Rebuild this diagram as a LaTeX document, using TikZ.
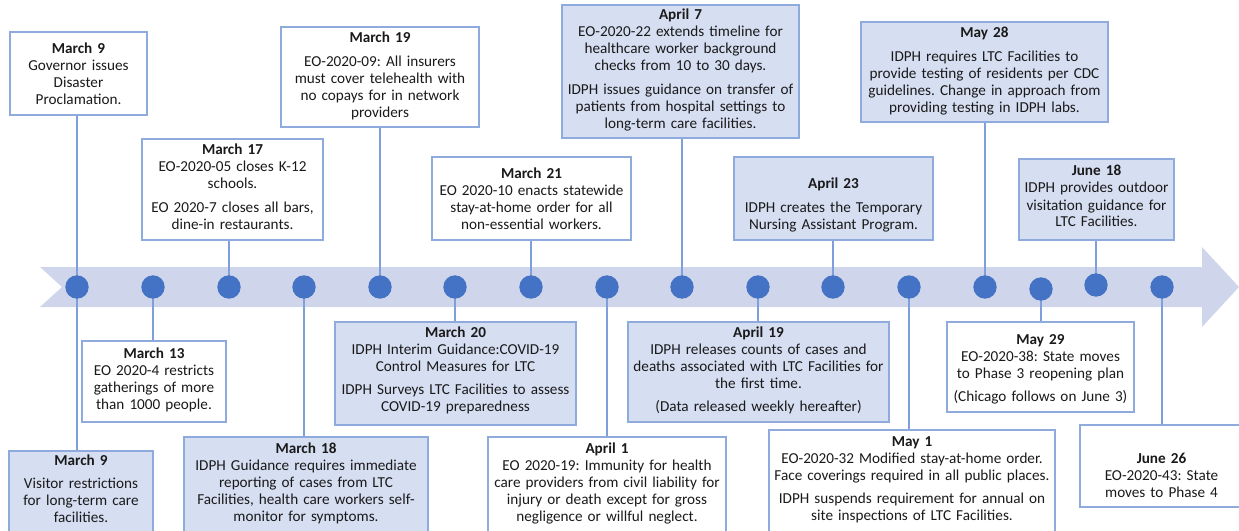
\documentclass[tikz,border=0pt]{standalone}
\usepackage{fontspec}
\setmainfont{Carlito}
\usetikzlibrary{fit}
\definecolor{bandc}{HTML}{CFD5EA}
\definecolor{boxfill}{HTML}{D6DEF2}
\definecolor{boxline}{HTML}{8FAADC}
\definecolor{connc}{HTML}{7F9FDA}
\definecolor{dotc}{HTML}{4472C4}
\definecolor{txtc}{HTML}{1A1A1A}
\tikzset{
  evwhite/.style={draw=boxline, line width=1.1pt, fill=white, inner sep=0pt},
  evblue/.style={draw=boxline, line width=1.1pt, fill=boxfill, inner sep=0pt},
  evtext/.style={anchor=base, align=center, inner sep=0pt, text=txtc, font=\fontsize{11.4}{12.75}\selectfont\frenchspacing},
  conn/.style={draw=connc, line width=1.1pt},
  evdot/.style={circle, fill=dotc, minimum size=17.5pt, inner sep=0pt},
}
\newcommand\evbox[8]{%
  \node[#6, fit={(#2,#3)(#4,#5)}] (#1) {};
  \pgfmathsetmacro\evtw{(#4-#2-2)*0.75}%
  \pgfmathsetmacro\evxc{(#2+#4)/2}%
  \node[evtext, text width=\evtw pt] (#1-t) at (\evxc,#7) {#8};
}
\begin{document}
\begin{tikzpicture}[x=0.75pt,y=-0.75pt]
\useasboundingbox (0,0) rectangle (1239,531);
\clip (0,0) rectangle (1239,531);
% band
\fill[bandc] (40,267) -- (1202,267) -- (1202,247) -- (1239,287) -- (1202,327) -- (1202,307) -- (40,307) -- (62,287) -- cycle;
% dot positions
\coordinate (p1) at (77,287);
\coordinate (p2) at (153,287);
\coordinate (p3) at (229,287);
\coordinate (p4) at (304,287);
\coordinate (p5) at (380,287);
\coordinate (p6) at (455,287);
\coordinate (p7) at (531,287);
\coordinate (p8) at (607,287);
\coordinate (p9) at (682,287);
\coordinate (p10) at (758,287);
\coordinate (p11) at (833,287);
\coordinate (p12) at (909,287);
\coordinate (p13) at (985,287);
\coordinate (p14) at (1041,289);
\coordinate (p15) at (1096,285);
\coordinate (p16) at (1162,287);
% boxes
\evbox{m9a}{10}{32}{147}{115}{evwhite}{54}{\textbf{March 9}\\Governor issues\\Disaster\\Proclamation.}
\evbox{m17}{142}{139}{323}{240}{evwhite}{155}{\textbf{March 17}\\EO-2020-05 closes K-12\\schools.\\[5pt]EO 2020-7 closes all bars,\\dine-in restaurants.}
\evbox{m19}{281}{27}{479}{127}{evwhite}{43}{\textbf{March 19}\\[5pt]EO-2020-09: All insurers\\must cover telehealth with\\no copays for in network\\providers}
\evbox{a7}{562}{5}{799}{138}{evblue}{20}{\textbf{April 7}\\EO-2020-22 extends timeline for\\healthcare worker background\\checks from 10 to 30 days.\\[5pt]IDPH issues guidance on transfer of\\patients from hospital settings to\\long-term care facilities.}
\evbox{m21}{432}{157}{631}{240}{evwhite}{179}{\textbf{March 21}\\EO 2020-10 enacts statewide\\stay-at-home order for all\\non-essential workers.}
\evbox{a23}{734}{157}{933}{240}{evblue}{189}{\textbf{April 23}\\[5pt]IDPH creates the Temporary\\Nursing Assistant Program.}
\evbox{my28}{861}{22}{1108}{122}{evblue}{38}{\textbf{May 28}\\[5pt]IDPH requires LTC Facilities to\\provide testing of residents per CDC\\guidelines. Change in approach from\\providing testing in IDPH labs.}
\evbox{j18}{1019}{159}{1174}{240}{evblue}{176}{\textbf{June 18}\\IDPH provides outdoor\\visitation guidance for\\LTC Facilities.}
\evbox{m13}{82}{341}{226}{422}{evwhite}{358}{\textbf{March 13}\\EO 2020-4 restricts\\gatherings of more\\than 1000 people.}
\evbox{m9b}{9}{451}{153}{545}{evblue}{465}{\textbf{March 9}\\[5pt]Visitor restrictions\\for long-term care\\facilities.}
\evbox{m18}{184}{437}{428}{545}{evblue}{453}{\textbf{March 18}\\IDPH Guidance requires immediate\\reporting of cases from LTC\\Facilities, health care workers self-\\monitor for symptoms.}
\evbox{m20}{335}{322}{576}{425}{evblue}{337}{\textbf{March 20}\\IDPH Interim Guidance:COVID-19\\Control Measures for LTC\\[5pt]IDPH Surveys LTC Facilities to assess\\COVID-19 preparedness}
\evbox{a1}{488}{437}{726}{545}{evwhite}{453}{\textbf{April 1}\\EO 2020-19: Immunity for health\\care providers from civil liability for\\injury or death except for gross\\negligence or willful neglect.}
\evbox{a19}{628}{322}{889}{422}{evblue}{337}{\textbf{April 19}\\IDPH releases counts of cases and\\deaths associated with LTC Facilities for\\the first time.\\[5pt](Data released weekly hereafter)}
\evbox{my1}{769}{430}{1055}{545}{evwhite}{446}{\textbf{May 1}\\EO-2020-32 Modified stay-at-home order.\\Face coverings required in all public places.\\[5pt]IDPH suspends requirement for annual on\\site inspections of LTC Facilities.}
\evbox{my29}{947}{322}{1134}{412}{evwhite}{344}{\textbf{May 29}\\EO-2020-38: State moves\\to Phase 3 reopening plan\\[5pt](Chicago follows on June 3)}
\evbox{j26}{1080}{425}{1243}{507}{evwhite}{463}{\textbf{June 26}\\EO-2020-43: State\\moves to Phase 4}
% connectors
\draw[conn] (p1 |- m9a.south) -- (p1 |- m9b.north);
\draw[conn] (p2) -- (p2 |- m13.north);
\draw[conn] (p3) -- (p3 |- m17.south);
\draw[conn] (p4) -- (p4 |- m18.north);
\draw[conn] (p5) -- (p5 |- m19.south);
\draw[conn] (p6) -- (p6 |- m20.north);
\draw[conn] (p7) -- (p7 |- m21.south);
\draw[conn] (p8) -- (p8 |- a1.north);
\draw[conn] (p9) -- (p9 |- a7.south);
\draw[conn] (p10) -- (p10 |- a19.north);
\draw[conn] (p11) -- (p11 |- a23.south);
\draw[conn] (p12) -- (p12 |- my1.north);
\draw[conn] (p13) -- (p13 |- my28.south);
\draw[conn] (p14) -- (p14 |- my29.north);
\draw[conn] (p15) -- (p15 |- j18.south);
\draw[conn] (p16) -- (p16 |- j26.north);
% dots
\foreach \i in {1,...,16} { \node[evdot] (d\i) at (p\i) {}; }
\end{tikzpicture}
\end{document}
